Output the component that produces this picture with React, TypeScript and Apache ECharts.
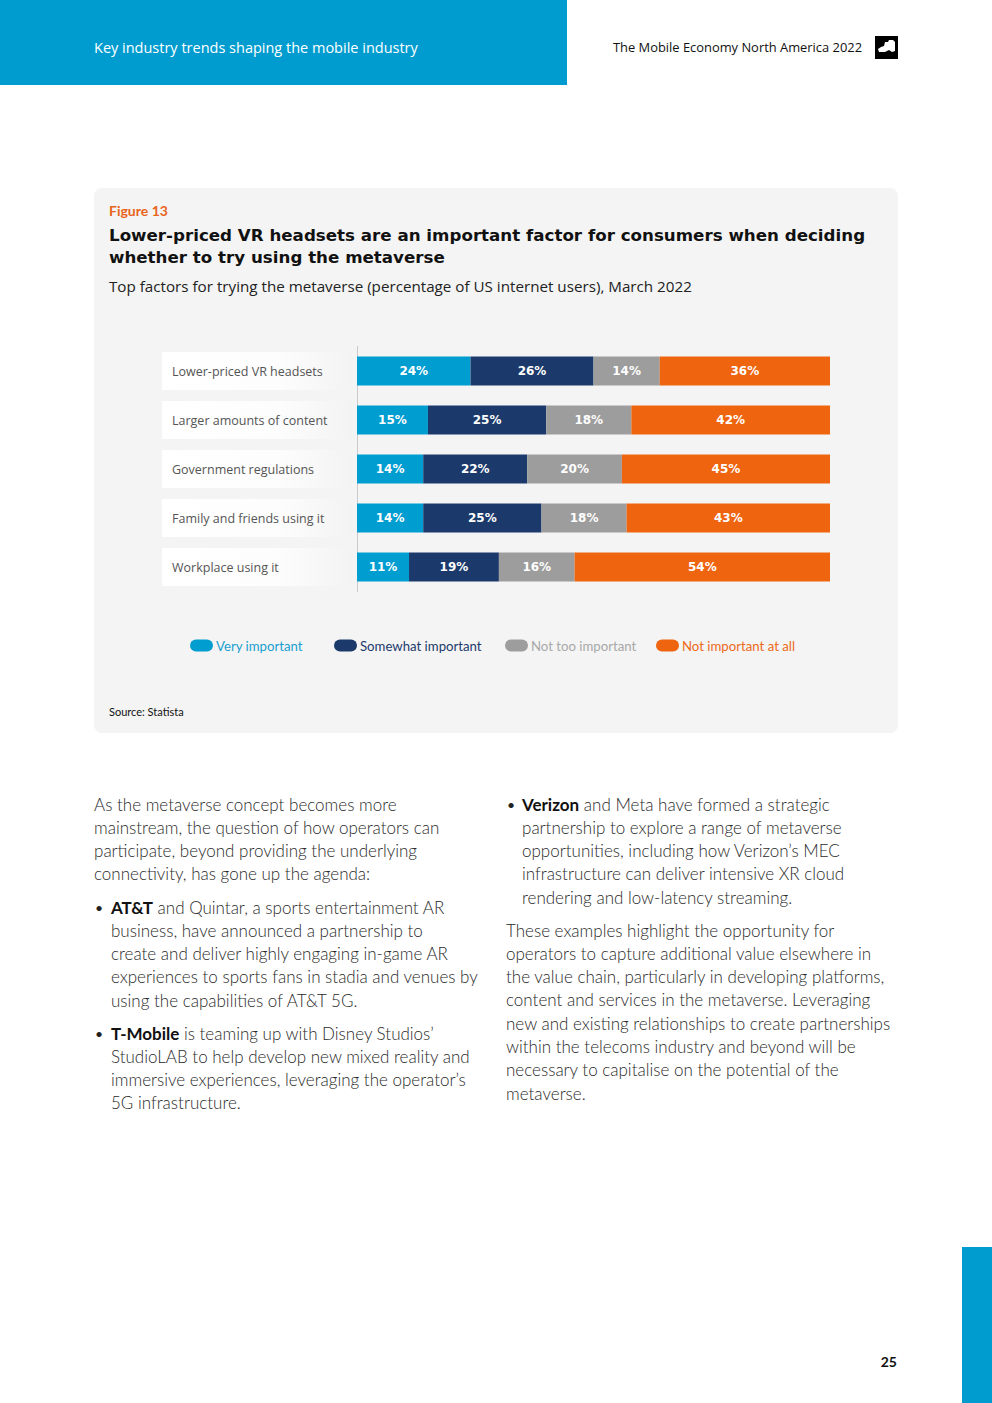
import React, { useEffect, useRef } from "react";
import * as echarts from "echarts";

const categories = [
  "Lower-priced VR headsets",
  "Larger amounts of content",
  "Government regulations",
  "Family and friends using it",
  "Workplace using it",
];
const seriesNames = ["Very important", "Somewhat important", "Not too important", "Not important at all"];
const veryImportant = [24, 15, 14, 14, 11];
const somewhatImportant = [26, 25, 22, 25, 19];
const notTooImportant = [14, 18, 20, 18, 16];
const notImportantAtAll = [36, 42, 45, 43, 54];
const seriesColors = ["#009dd1", "#1b3a6b", "#9d9d9d", "#ee640f"];
const legendTextColors = ["#1a9fd0", "#1b3a6b", "#a8a8a8", "#ec6a1a"];

const titleLines: string[] = [
  "Lower-priced VR headsets are an important factor for consumers when deciding",
  "whether to try using the metaverse",
];
const leftLines: string[] = [
  "As the metaverse concept becomes more",
  "mainstream, the question of how operators can",
  "participate, beyond providing the underlying",
  "connectivity, has gone up the agenda:",
];
const bullet1: string[] = [
  "{b|AT&T} and Quintar, a sports entertainment AR",
  "business, have announced a partnership to",
  "create and deliver highly engaging in-game AR",
  "experiences to sports fans in stadia and venues by",
  "using the capabilities of AT&T 5G.",
];
const bullet2: string[] = [
  "{b|T-Mobile} is teaming up with Disney Studios’",
  "StudioLAB to help develop new mixed reality and",
  "immersive experiences, leveraging the operator’s",
  "5G infrastructure.",
];
const bullet3: string[] = [
  "{b|Verizon} and Meta have formed a strategic",
  "partnership to explore a range of metaverse",
  "opportunities, including how Verizon’s MEC",
  "infrastructure can deliver intensive XR cloud",
  "rendering and low-latency streaming.",
];
const rightLines: string[] = [
  "These examples highlight the opportunity for",
  "operators to capture additional value elsewhere in",
  "the value chain, particularly in developing platforms,",
  "content and services in the metaverse. Leveraging",
  "new and existing relationships to create partnerships",
  "within the telecoms industry and beyond will be",
  "necessary to capitalise on the potential of the",
  "metaverse.",
];

const FONT = "Lato";
const WIDE = "Open Sans";

function txt(x: number, y: number, text: string, o: any = {}) {
  return {
    type: "text",
    x,
    y,
    z: 10,
    style: {
      text,
      fill: o.fill || "#222",
      fontSize: o.fontSize || 16,
      fontFamily: o.fontFamily || FONT,
      fontWeight: o.fontWeight || "normal",
      align: o.align || "left",
      verticalAlign: "middle",
      lineHeight: o.lineHeight,
      rich: o.rich,
    },
  };
}

export default function App() {
  const ref = useRef<HTMLDivElement>(null);
  useEffect(() => {
    if (!ref.current) return;
    const chart = echarts.init(ref.current, undefined, { renderer: "svg" });
    const lh = 23.3;
    const bodyRich = { b: { fontWeight: "bold", fill: "#111", fontSize: 17, fontFamily: FONT } };
    const bodyOpts = { fill: "#2a2a2a", fontSize: 17, fontWeight: 300, rich: bodyRich };
    const graphics: any[] = [];
    // header
    graphics.push({ type: "rect", z: -5, shape: { x: 0, y: 0, width: 567, height: 85 }, style: { fill: "#009ccf" } });
    graphics.push(txt(94, 47, "Key industry trends shaping the mobile industry", { fill: "#ffffff", fontSize: 14.5, fontFamily: WIDE }));
    graphics.push(txt(613, 47, "The Mobile Economy North America 2022", { fill: "#111", fontSize: 12.9, fontFamily: WIDE }));
    graphics.push({ type: "rect", z: 5, shape: { x: 875, y: 36, width: 23, height: 23 }, style: { fill: "#000" } });
    graphics.push({
      type: "polygon",
      z: 6,
      shape: { points: [[878, 49], [881, 47], [884, 46], [885, 42], [888, 42], [889, 40], [893, 40], [895, 42], [895, 51], [892, 52], [889, 50], [885, 52], [879, 52]] },
      style: { fill: "#fff" },
    });
    // figure box
    graphics.push({ type: "rect", z: -5, shape: { x: 94, y: 188, width: 804, height: 545, r: 8 }, style: { fill: "#f4f4f4" } });
    graphics.push(txt(109, 210, "Figure 13", { fill: "#e8641b", fontSize: 14, fontWeight: "bold" }));
    titleLines.forEach((l, i) =>
      graphics.push(txt(109, 234.5 + i * 22, l, { fill: "#111", fontSize: 16.7, fontWeight: "bold", fontFamily: "DejaVu Sans", lineHeight: 20 }))
    );
    graphics.push(txt(109, 286, "Top factors for trying the metaverse (percentage of US internet users), March 2022", { fill: "#222", fontSize: 15.2, fontFamily: WIDE }));
    graphics.push(txt(109, 711, "Source: Statista", { fill: "#111", fontSize: 11 }));
    // body text
    leftLines.forEach((l, i) => graphics.push(txt(94, 804 + i * lh, l, bodyOpts)));
    graphics.push(txt(95, 907, "•", { fill: "#222", fontSize: 14 }));
    bullet1.forEach((l, i) => graphics.push(txt(111, 907 + i * lh, l, bodyOpts)));
    graphics.push(txt(95, 1033, "•", { fill: "#222", fontSize: 14 }));
    bullet2.forEach((l, i) => graphics.push(txt(111, 1033 + i * lh, l, bodyOpts)));
    graphics.push(txt(507, 804, "•", { fill: "#222", fontSize: 14 }));
    bullet3.forEach((l, i) => graphics.push(txt(522, 804 + i * lh, l, bodyOpts)));
    rightLines.forEach((l, i) => graphics.push(txt(506, 930 + i * lh, l, bodyOpts)));
    // page number & side bar
    graphics.push(txt(897, 1361, "25", { fill: "#111", fontSize: 14, fontWeight: "bold", align: "right" }));
    graphics.push({ type: "rect", z: 5, shape: { x: 962, y: 1247, width: 30, height: 156 }, style: { fill: "#009ccf" } });

    const values = [veryImportant, somewhatImportant, notTooImportant, notImportantAtAll];
    const legendLefts = [190, 334, 505, 656];
    const capsule = "path://M6,0L17,0A6,6,0,0,1,17,12L6,12A6,6,0,0,1,6,0Z";

    const labelBg = new echarts.graphic.LinearGradient(0, 0, 1, 0, [
      { offset: 0, color: "#ffffff" },
      { offset: 0.6, color: "#fdfdfd" },
      { offset: 1, color: "#f3f3f3" },
    ]);

    chart.setOption({
      animation: false,
      backgroundColor: "#ffffff",
      graphic: graphics,
      legend: seriesNames.map((n, i) => ({
        data: [n],
        left: legendLefts[i],
        top: 639,
        padding: 0,
        icon: capsule,
        itemWidth: 23,
        itemHeight: 12,
        selectedMode: false,
        textStyle: { color: legendTextColors[i], fontSize: 13.2, fontFamily: FONT, padding: [0, 0, 0, -2] },
      })),
      grid: { left: 357, right: 162, top: 346.5, bottom: 811.5, containLabel: false },
      xAxis: { type: "value", min: 0, max: 100, show: false },
      yAxis: {
        type: "category",
        data: categories,
        inverse: true,
        axisTick: { show: false },
        axisLine: { show: true, lineStyle: { color: "#c9c9c9", width: 1 } },
        axisLabel: {
          align: "left",
          margin: 195,
          width: 181,
          lineHeight: 38,
          padding: [0, 0, 0, 10],
          backgroundColor: labelBg,
          color: "#555",
          fontSize: 12.5,
          fontFamily: "Open Sans",
        },
      },
      series: seriesNames.map((n, i) => ({
        name: n,
        type: "bar",
        stack: "total",
        clip: true,
        barWidth: 29,
        data: values[i],
        itemStyle: { color: seriesColors[i] },
        label: {
          show: true,
          position: "inside",
          formatter: "{c}%",
          color: "#ffffff",
          fontWeight: "bold",
          fontSize: 12,
          fontFamily: "DejaVu Sans",
        },
      })),
    });
    return () => chart.dispose();
  }, []);
  return <div ref={ref} style={{ position: "absolute", left: 0, top: 0, width: 992, height: 1403 }} />;
}
